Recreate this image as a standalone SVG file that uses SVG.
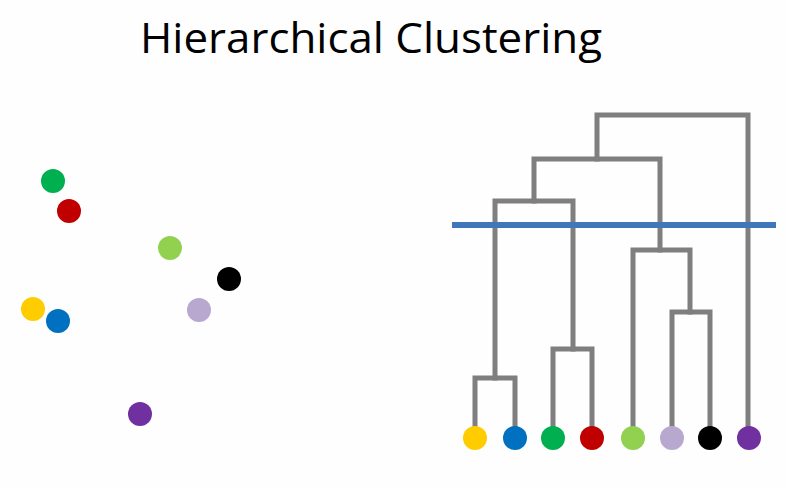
<svg xmlns="http://www.w3.org/2000/svg" width="786" height="487" viewBox="0 0 786 487">
<style>
.title{font-family:"Open Sans","Noto Sans","Liberation Sans",sans-serif;font-size:42px;fill:#000}
.link{fill:none;stroke:#7f7f7f;stroke-width:5;stroke-linejoin:miter;stroke-linecap:square}
.cut{stroke:#4076ba;stroke-width:6}
.y{fill:#ffcc00}.b{fill:#0070c0}.g{fill:#00b050}.r{fill:#c00000}
.lg{fill:#92d050}.li{fill:#b8a8cf}.k{fill:#000}.p{fill:#7030a0}
</style>
<rect width="786" height="487" fill="#fefefe"/>
<text class="title" x="371" y="53" text-anchor="middle" textLength="462" lengthAdjust="spacingAndGlyphs">Hierarchical Clustering</text>
<g id="scatter">
<circle id="pt-green" class="g" cx="53" cy="181" r="12"/>
<circle id="pt-red" class="r" cx="69" cy="211" r="12"/>
<circle id="pt-lightgreen" class="lg" cx="170" cy="248" r="12"/>
<circle id="pt-black" class="k" cx="229" cy="279" r="12"/>
<circle id="pt-yellow" class="y" cx="33" cy="309" r="12"/>
<circle id="pt-blue" class="b" cx="58" cy="321" r="12"/>
<circle id="pt-lilac" class="li" cx="199" cy="310" r="12"/>
<circle id="pt-purple" class="p" cx="140" cy="414" r="12"/>
</g>
<g id="connectors">
<path class="link" d="M475 438V378H515V438"/>
<path class="link" d="M553 438V349H592V438"/>
<path class="link" d="M495 378V201H573V349"/>
<path class="link" d="M672 438V312H710V438"/>
<path class="link" d="M633 438V250H690V312"/>
<path class="link" d="M534 201V159H660V250"/>
<path class="link" d="M597 159V115H748V438"/>
</g>
<g id="cut-line">
<line class="cut" x1="452" y1="225" x2="776" y2="225"/>
</g>
<g id="leaf-yellow"><circle class="y" cx="475" cy="438" r="12"/></g>
<g id="leaf-blue"><circle class="b" cx="515" cy="438" r="12"/></g>
<g id="leaf-green"><circle class="g" cx="553" cy="438" r="12"/></g>
<g id="leaf-red"><circle class="r" cx="592" cy="438" r="12"/></g>
<g id="leaf-lightgreen"><circle class="lg" cx="633" cy="438" r="12"/></g>
<g id="leaf-lilac"><circle class="li" cx="672" cy="438" r="12"/></g>
<g id="leaf-black"><circle class="k" cx="710" cy="438" r="12"/></g>
<g id="leaf-purple"><circle class="p" cx="749" cy="438" r="12"/></g>
</svg>
